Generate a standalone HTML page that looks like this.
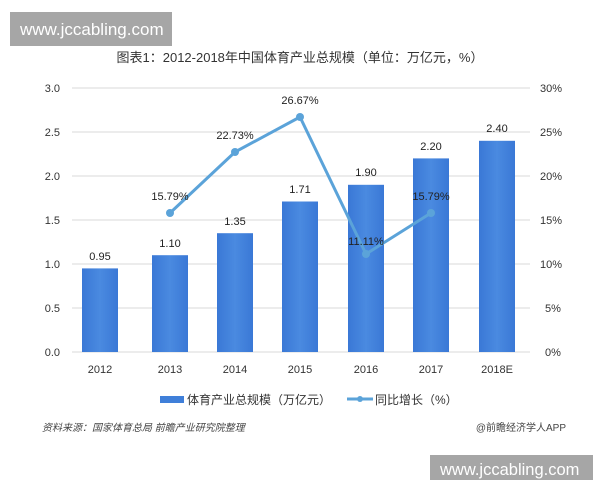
<!DOCTYPE html>
<html><head><meta charset="utf-8"><style>
body{margin:0;width:600px;height:480px;background:#fff;overflow:hidden;font-family:"Liberation Sans","Noto Sans CJK SC",sans-serif;}
</style></head><body>
<svg width="600" height="480" xmlns="http://www.w3.org/2000/svg" font-family="Liberation Sans, Noto Sans CJK SC, sans-serif">
<rect x="10" y="12" width="162" height="34" fill="#a6a6a6"/>
<text x="20" y="35" font-size="17" fill="#fff">www.jccabling.com</text>
<text x="300" y="62" font-size="13" fill="#333" text-anchor="middle">图表1：2012-2018年中国体育产业总规模（单位：万亿元，%）</text>
<g stroke="#d9d9d9" stroke-width="1">
<line x1="72" x2="530" y1="88" y2="88"/><line x1="72" x2="530" y1="132" y2="132"/><line x1="72" x2="530" y1="176" y2="176"/><line x1="72" x2="530" y1="220" y2="220"/><line x1="72" x2="530" y1="264" y2="264"/><line x1="72" x2="530" y1="308" y2="308"/><line x1="72" x2="530" y1="352" y2="352"/>
</g>
<g font-size="11" fill="#333" text-anchor="end">
<text x="60" y="92">3.0</text><text x="60" y="136">2.5</text><text x="60" y="180">2.0</text><text x="60" y="224">1.5</text><text x="60" y="268">1.0</text><text x="60" y="312">0.5</text><text x="60" y="356">0.0</text>
</g>
<g font-size="11" fill="#333" text-anchor="start">
<text x="540" y="92">30%</text><text x="540" y="136">25%</text><text x="540" y="180">20%</text><text x="540" y="224">15%</text><text x="540" y="268">10%</text><text x="545" y="312">5%</text><text x="545" y="356">0%</text>
</g>
<defs><linearGradient id="g" x1="0" x2="1"><stop offset="0" stop-color="#3a78d6"/><stop offset="0.5" stop-color="#4a8ae0"/><stop offset="1" stop-color="#3a78d6"/></linearGradient></defs>
<g fill="url(#g)">
<rect x="82" y="268.4" width="36" height="83.6"/>
<rect x="152" y="255.2" width="36" height="96.8"/>
<rect x="217" y="233.2" width="36" height="118.8"/>
<rect x="282" y="201.5" width="36" height="150.5"/>
<rect x="348" y="184.8" width="36" height="167.2"/>
<rect x="413" y="158.4" width="36" height="193.6"/>
<rect x="479" y="140.8" width="36" height="211.2"/>
</g>
<g font-size="11" fill="#222" text-anchor="middle">
<text x="100" y="260">0.95</text><text x="170" y="247">1.10</text><text x="235" y="225">1.35</text><text x="300" y="193">1.71</text><text x="366" y="176">1.90</text><text x="431" y="150">2.20</text><text x="497" y="132">2.40</text>
</g>
<polyline points="170,213 235,152 300,117 366,254 431,213" fill="none" stroke="#5ba3d9" stroke-width="3"/>
<g fill="#5ba3d9"><circle cx="170" cy="213" r="4"/><circle cx="235" cy="152" r="4"/><circle cx="300" cy="117" r="4"/><circle cx="366" cy="254" r="4"/><circle cx="431" cy="213" r="4"/></g>
<g font-size="11" fill="#222" text-anchor="middle">
<text x="170" y="200">15.79%</text><text x="235" y="139">22.73%</text><text x="300" y="104">26.67%</text><text x="366" y="245">11.11%</text><text x="431" y="200">15.79%</text>
</g>
<g font-size="11" fill="#333" text-anchor="middle">
<text x="100" y="373">2012</text><text x="170" y="373">2013</text><text x="235" y="373">2014</text><text x="300" y="373">2015</text><text x="366" y="373">2016</text><text x="431" y="373">2017</text><text x="497" y="373">2018E</text>
</g>
<rect x="160" y="396" width="24" height="7" fill="#3f7fd9"/>
<text x="187" y="404" font-size="12" fill="#333">体育产业总规模（万亿元）</text>
<line x1="347" x2="373" y1="399" y2="399" stroke="#5ba3d9" stroke-width="3"/>
<circle cx="360" cy="399" r="3" fill="#5ba3d9"/>
<text x="375" y="404" font-size="12" fill="#333">同比增长（%）</text>
<text x="42" y="431" font-size="10" fill="#444" font-style="italic">资料来源：国家体育总局 前瞻产业研究院整理</text>
<text x="566" y="431" font-size="10" fill="#444" text-anchor="end">@前瞻经济学人APP</text>
<rect x="430" y="455" width="163" height="25" fill="#a6a6a6"/>
<text x="440" y="475" font-size="16.5" fill="#fff">www.jccabling.com</text>
</svg>
</body></html>
